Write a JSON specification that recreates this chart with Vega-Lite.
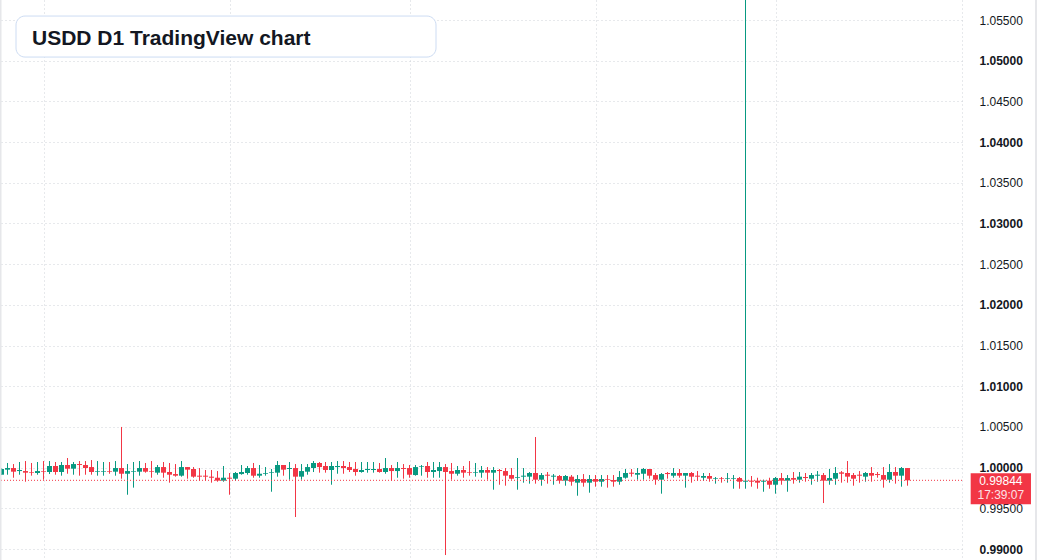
{
  "$schema": "https://vega.github.io/schema/vega-lite/v6.json",
  "width": 962,
  "height": 560,
  "autosize": {"type": "none"},
  "padding": {"left": 0, "top": 0, "right": 75, "bottom": 0},
  "background": "#ffffff",
  "config": {"view": {"stroke": null}, "font": "Liberation Sans"},
  "datasets": {
    "candles": [
      {"d":"2024-07-25","o":0.99913,"h":0.99991,"l":0.99909,"c":0.99983},
      {"d":"2024-07-26","o":0.99975,"h":1.00057,"l":0.99913,"c":0.99995},
      {"d":"2024-07-27","o":0.99995,"h":1.00044,"l":0.99876,"c":0.99950},
      {"d":"2024-07-28","o":0.99958,"h":1.00069,"l":0.99913,"c":0.99971},
      {"d":"2024-07-29","o":0.99958,"h":1.00081,"l":0.99827,"c":0.99938},
      {"d":"2024-07-30","o":0.99946,"h":1.00057,"l":0.99901,"c":0.99938},
      {"d":"2024-07-31","o":0.99934,"h":1.00069,"l":0.99913,"c":0.99958},
      {"d":"2024-08-01","o":0.99958,"h":1.00081,"l":0.99852,"c":0.99950},
      {"d":"2024-08-02","o":0.99946,"h":1.00081,"l":0.99921,"c":1.00020},
      {"d":"2024-08-03","o":1.00020,"h":1.00069,"l":0.99913,"c":0.99946},
      {"d":"2024-08-04","o":0.99946,"h":1.00069,"l":0.99901,"c":1.00032},
      {"d":"2024-08-05","o":1.00032,"h":1.00118,"l":0.99925,"c":0.99987},
      {"d":"2024-08-06","o":0.99987,"h":1.00069,"l":0.99913,"c":1.00044},
      {"d":"2024-08-07","o":1.00044,"h":1.00081,"l":0.99901,"c":1.00032},
      {"d":"2024-08-08","o":1.00032,"h":1.00081,"l":0.99913,"c":0.99995},
      {"d":"2024-08-09","o":1.00007,"h":1.00093,"l":0.99913,"c":0.99946},
      {"d":"2024-08-10","o":0.99950,"h":1.00081,"l":0.99901,"c":0.99958},
      {"d":"2024-08-11","o":0.99950,"h":1.00069,"l":0.99901,"c":0.99958},
      {"d":"2024-08-12","o":0.99958,"h":1.00069,"l":0.99925,"c":0.99950},
      {"d":"2024-08-13","o":0.99950,"h":1.00081,"l":0.99901,"c":0.99995},
      {"d":"2024-08-14","o":0.99995,"h":1.00500,"l":0.99864,"c":0.99925},
      {"d":"2024-08-15","o":0.99925,"h":1.00044,"l":0.99667,"c":0.99958},
      {"d":"2024-08-16","o":0.99950,"h":1.00069,"l":0.99754,"c":0.99958},
      {"d":"2024-08-17","o":0.99950,"h":1.00081,"l":0.99901,"c":0.99995},
      {"d":"2024-08-18","o":0.99995,"h":1.00057,"l":0.99938,"c":0.99950},
      {"d":"2024-08-19","o":0.99958,"h":1.00081,"l":0.99876,"c":0.99950},
      {"d":"2024-08-20","o":0.99938,"h":1.00032,"l":0.99913,"c":1.00007},
      {"d":"2024-08-21","o":1.00007,"h":1.00069,"l":0.99876,"c":0.99938},
      {"d":"2024-08-22","o":0.99946,"h":1.00057,"l":0.99815,"c":0.99913},
      {"d":"2024-08-23","o":0.99921,"h":1.00044,"l":0.99889,"c":0.99901},
      {"d":"2024-08-24","o":0.99901,"h":1.00081,"l":0.99889,"c":1.00007},
      {"d":"2024-08-25","o":1.00007,"h":1.00007,"l":0.99864,"c":0.99975},
      {"d":"2024-08-26","o":0.99983,"h":1.00007,"l":0.99876,"c":0.99889},
      {"d":"2024-08-27","o":0.99901,"h":0.99995,"l":0.99840,"c":0.99889},
      {"d":"2024-08-28","o":0.99901,"h":0.99971,"l":0.99840,"c":0.99889},
      {"d":"2024-08-29","o":0.99889,"h":0.99971,"l":0.99815,"c":0.99876},
      {"d":"2024-08-30","o":0.99876,"h":0.99958,"l":0.99827,"c":0.99840},
      {"d":"2024-08-31","o":0.99840,"h":1.00020,"l":0.99827,"c":0.99876},
      {"d":"2024-09-01","o":0.99876,"h":0.99934,"l":0.99667,"c":0.99864},
      {"d":"2024-09-02","o":0.99864,"h":0.99946,"l":0.99840,"c":0.99934},
      {"d":"2024-09-03","o":0.99921,"h":1.00032,"l":0.99913,"c":0.99946},
      {"d":"2024-09-04","o":0.99934,"h":1.00020,"l":0.99913,"c":0.99995},
      {"d":"2024-09-05","o":0.99995,"h":1.00057,"l":0.99876,"c":0.99901},
      {"d":"2024-09-06","o":0.99901,"h":1.00032,"l":0.99876,"c":0.99925},
      {"d":"2024-09-07","o":0.99925,"h":1.00007,"l":0.99901,"c":0.99934},
      {"d":"2024-09-08","o":0.99938,"h":0.99983,"l":0.99704,"c":0.99946},
      {"d":"2024-09-09","o":0.99938,"h":1.00081,"l":0.99889,"c":1.00032},
      {"d":"2024-09-10","o":1.00032,"h":1.00032,"l":0.99901,"c":0.99975},
      {"d":"2024-09-11","o":0.99983,"h":1.00069,"l":0.99852,"c":0.99995},
      {"d":"2024-09-12","o":0.99995,"h":1.00044,"l":0.99393,"c":0.99889},
      {"d":"2024-09-13","o":0.99889,"h":1.00044,"l":0.99852,"c":0.99958},
      {"d":"2024-09-14","o":0.99950,"h":1.00044,"l":0.99913,"c":1.00007},
      {"d":"2024-09-15","o":0.99995,"h":1.00081,"l":0.99946,"c":1.00057},
      {"d":"2024-09-16","o":1.00057,"h":1.00069,"l":0.99938,"c":1.00007},
      {"d":"2024-09-17","o":1.00020,"h":1.00069,"l":0.99938,"c":0.99971},
      {"d":"2024-09-18","o":0.99971,"h":1.00069,"l":0.99790,"c":1.00020},
      {"d":"2024-09-19","o":1.00007,"h":1.00081,"l":0.99925,"c":1.00020},
      {"d":"2024-09-20","o":1.00020,"h":1.00081,"l":0.99925,"c":0.99995},
      {"d":"2024-09-21","o":1.00007,"h":1.00069,"l":0.99946,"c":0.99971},
      {"d":"2024-09-22","o":0.99983,"h":1.00069,"l":0.99901,"c":0.99946},
      {"d":"2024-09-23","o":0.99946,"h":1.00069,"l":0.99938,"c":0.99971},
      {"d":"2024-09-24","o":0.99971,"h":1.00069,"l":0.99938,"c":0.99983},
      {"d":"2024-09-25","o":0.99971,"h":1.00069,"l":0.99938,"c":0.99983},
      {"d":"2024-09-26","o":0.99983,"h":1.00057,"l":0.99938,"c":0.99946},
      {"d":"2024-09-27","o":0.99946,"h":1.00118,"l":0.99925,"c":0.99995},
      {"d":"2024-09-28","o":0.99995,"h":1.00032,"l":0.99840,"c":0.99958},
      {"d":"2024-09-29","o":0.99958,"h":1.00069,"l":0.99876,"c":0.99995},
      {"d":"2024-09-30","o":0.99995,"h":1.00044,"l":0.99864,"c":0.99983},
      {"d":"2024-10-01","o":0.99995,"h":1.00032,"l":0.99876,"c":0.99913},
      {"d":"2024-10-02","o":0.99909,"h":1.00032,"l":0.99901,"c":1.00007},
      {"d":"2024-10-03","o":1.00012,"h":1.00032,"l":0.99901,"c":1.00020},
      {"d":"2024-10-04","o":1.00020,"h":1.00069,"l":0.99876,"c":0.99946},
      {"d":"2024-10-05","o":0.99946,"h":1.00069,"l":0.99876,"c":0.99971},
      {"d":"2024-10-06","o":0.99958,"h":1.00069,"l":0.99876,"c":1.00007},
      {"d":"2024-10-07","o":1.00007,"h":1.00044,"l":0.98926,"c":0.99946},
      {"d":"2024-10-08","o":0.99958,"h":1.00057,"l":0.99852,"c":0.99925},
      {"d":"2024-10-09","o":0.99925,"h":1.00020,"l":0.99901,"c":0.99971},
      {"d":"2024-10-10","o":0.99971,"h":1.00020,"l":0.99876,"c":0.99938},
      {"d":"2024-10-11","o":0.99946,"h":1.00081,"l":0.99901,"c":0.99938},
      {"d":"2024-10-12","o":0.99938,"h":1.00057,"l":0.99889,"c":0.99946},
      {"d":"2024-10-13","o":0.99938,"h":1.00020,"l":0.99876,"c":0.99971},
      {"d":"2024-10-14","o":0.99971,"h":1.00007,"l":0.99852,"c":0.99938},
      {"d":"2024-10-15","o":0.99938,"h":1.00007,"l":0.99729,"c":0.99971},
      {"d":"2024-10-16","o":0.99971,"h":0.99983,"l":0.99790,"c":0.99958},
      {"d":"2024-10-17","o":0.99958,"h":0.99995,"l":0.99778,"c":0.99901},
      {"d":"2024-10-18","o":0.99909,"h":0.99995,"l":0.99852,"c":0.99864},
      {"d":"2024-10-19","o":0.99876,"h":1.00118,"l":0.99729,"c":0.99885},
      {"d":"2024-10-20","o":0.99889,"h":0.99995,"l":0.99815,"c":0.99901},
      {"d":"2024-10-21","o":0.99889,"h":0.99946,"l":0.99803,"c":0.99934},
      {"d":"2024-10-22","o":0.99934,"h":1.00376,"l":0.99803,"c":0.99852},
      {"d":"2024-10-23","o":0.99852,"h":0.99934,"l":0.99778,"c":0.99909},
      {"d":"2024-10-24","o":0.99913,"h":0.99946,"l":0.99803,"c":0.99901},
      {"d":"2024-10-25","o":0.99889,"h":0.99921,"l":0.99790,"c":0.99901},
      {"d":"2024-10-26","o":0.99897,"h":0.99909,"l":0.99803,"c":0.99840},
      {"d":"2024-10-27","o":0.99840,"h":0.99909,"l":0.99778,"c":0.99897},
      {"d":"2024-10-28","o":0.99889,"h":0.99909,"l":0.99778,"c":0.99827},
      {"d":"2024-10-29","o":0.99815,"h":0.99909,"l":0.99655,"c":0.99860},
      {"d":"2024-10-30","o":0.99860,"h":0.99921,"l":0.99766,"c":0.99815},
      {"d":"2024-10-31","o":0.99815,"h":0.99909,"l":0.99692,"c":0.99860},
      {"d":"2024-11-01","o":0.99860,"h":0.99909,"l":0.99766,"c":0.99827},
      {"d":"2024-11-02","o":0.99827,"h":0.99909,"l":0.99766,"c":0.99860},
      {"d":"2024-11-03","o":0.99860,"h":0.99909,"l":0.99754,"c":0.99852},
      {"d":"2024-11-04","o":0.99848,"h":0.99909,"l":0.99766,"c":0.99827},
      {"d":"2024-11-05","o":0.99827,"h":0.99958,"l":0.99790,"c":0.99885},
      {"d":"2024-11-06","o":0.99876,"h":0.99983,"l":0.99864,"c":0.99934},
      {"d":"2024-11-07","o":0.99938,"h":0.99983,"l":0.99889,"c":0.99925},
      {"d":"2024-11-08","o":0.99913,"h":0.99995,"l":0.99852,"c":0.99934},
      {"d":"2024-11-09","o":0.99925,"h":0.99995,"l":0.99852,"c":0.99983},
      {"d":"2024-11-10","o":0.99983,"h":0.99983,"l":0.99864,"c":0.99901},
      {"d":"2024-11-11","o":0.99909,"h":0.99934,"l":0.99790,"c":0.99852},
      {"d":"2024-11-12","o":0.99852,"h":0.99934,"l":0.99680,"c":0.99921},
      {"d":"2024-11-13","o":0.99934,"h":0.99946,"l":0.99864,"c":0.99921},
      {"d":"2024-11-14","o":0.99901,"h":0.99995,"l":0.99876,"c":0.99934},
      {"d":"2024-11-15","o":0.99934,"h":0.99983,"l":0.99876,"c":0.99901},
      {"d":"2024-11-16","o":0.99901,"h":0.99934,"l":0.99754,"c":0.99934},
      {"d":"2024-11-17","o":0.99934,"h":0.99946,"l":0.99815,"c":0.99889},
      {"d":"2024-11-18","o":0.99901,"h":0.99958,"l":0.99840,"c":0.99889},
      {"d":"2024-11-19","o":0.99876,"h":0.99934,"l":0.99840,"c":0.99897},
      {"d":"2024-11-20","o":0.99897,"h":0.99934,"l":0.99827,"c":0.99864},
      {"d":"2024-11-21","o":0.99864,"h":0.99885,"l":0.99803,"c":0.99872},
      {"d":"2024-11-22","o":0.99872,"h":0.99885,"l":0.99815,"c":0.99864},
      {"d":"2024-11-23","o":0.99864,"h":0.99934,"l":0.99815,"c":0.99872},
      {"d":"2024-11-24","o":0.99864,"h":0.99909,"l":0.99741,"c":0.99872},
      {"d":"2024-11-25","o":0.99872,"h":0.99885,"l":0.99741,"c":0.99827},
      {"d":"2024-11-26","o":0.99827,"h":1.06000,"l":0.99741,"c":0.99840},
      {"d":"2024-11-27","o":0.99840,"h":0.99897,"l":0.99766,"c":0.99827},
      {"d":"2024-11-28","o":0.99840,"h":0.99876,"l":0.99741,"c":0.99815},
      {"d":"2024-11-29","o":0.99827,"h":0.99852,"l":0.99704,"c":0.99840},
      {"d":"2024-11-30","o":0.99840,"h":0.99876,"l":0.99741,"c":0.99790},
      {"d":"2024-12-01","o":0.99790,"h":0.99885,"l":0.99680,"c":0.99872},
      {"d":"2024-12-02","o":0.99872,"h":0.99934,"l":0.99790,"c":0.99840},
      {"d":"2024-12-03","o":0.99840,"h":0.99909,"l":0.99704,"c":0.99872},
      {"d":"2024-12-04","o":0.99872,"h":0.99946,"l":0.99803,"c":0.99852},
      {"d":"2024-12-05","o":0.99852,"h":0.99946,"l":0.99815,"c":0.99889},
      {"d":"2024-12-06","o":0.99885,"h":0.99934,"l":0.99827,"c":0.99872},
      {"d":"2024-12-07","o":0.99864,"h":0.99934,"l":0.99790,"c":0.99909},
      {"d":"2024-12-08","o":0.99901,"h":0.99958,"l":0.99827,"c":0.99913},
      {"d":"2024-12-09","o":0.99909,"h":0.99934,"l":0.99565,"c":0.99840},
      {"d":"2024-12-10","o":0.99840,"h":0.99983,"l":0.99790,"c":0.99872},
      {"d":"2024-12-11","o":0.99864,"h":1.00007,"l":0.99790,"c":0.99934},
      {"d":"2024-12-12","o":0.99942,"h":0.99958,"l":0.99815,"c":0.99925},
      {"d":"2024-12-13","o":0.99934,"h":1.00081,"l":0.99815,"c":0.99889},
      {"d":"2024-12-14","o":0.99909,"h":0.99934,"l":0.99778,"c":0.99864},
      {"d":"2024-12-15","o":0.99913,"h":0.99958,"l":0.99815,"c":0.99901},
      {"d":"2024-12-16","o":0.99889,"h":0.99946,"l":0.99827,"c":0.99934},
      {"d":"2024-12-17","o":0.99934,"h":1.00007,"l":0.99827,"c":0.99901},
      {"d":"2024-12-18","o":0.99921,"h":0.99946,"l":0.99876,"c":0.99909},
      {"d":"2024-12-19","o":0.99909,"h":1.00007,"l":0.99754,"c":0.99852},
      {"d":"2024-12-20","o":0.99852,"h":1.00044,"l":0.99815,"c":0.99946},
      {"d":"2024-12-21","o":0.99946,"h":1.00007,"l":0.99803,"c":0.99901},
      {"d":"2024-12-22","o":0.99901,"h":1.00007,"l":0.99766,"c":0.99995},
      {"d":"2024-12-23","o":0.99995,"h":0.99995,"l":0.99778,"c":0.99844}
    ],
    "last": [{"price": 0.99844, "label": "0.99844", "timer": "17:39:07"}]
  },
  "layer": [
    {
      "data": {"name": "candles"},
      "mark": {"type": "rule", "strokeWidth": 1, "clip": true},
      "encoding": {
        "x": {
          "field": "d", "type": "temporal",
          "scale": {"type": "utc", "padding": 0, "nice": false, "domain": [
            {"year": 2024, "month": 7, "date": 24, "hours": 18, "minutes": 0, "utc": true},
            {"year": 2025, "month": 1, "date": 1, "hours": 2, "minutes": 0, "utc": true}
          ]},
          "axis": {
            "values": [
              {"year": 2024, "month": 8, "date": 1, "utc": true},
              {"year": 2024, "month": 9, "date": 1, "utc": true},
              {"year": 2024, "month": 10, "date": 1, "utc": true},
              {"year": 2024, "month": 11, "date": 1, "utc": true},
              {"year": 2024, "month": 12, "date": 1, "utc": true},
              {"year": 2025, "month": 1, "date": 1, "utc": true}
            ],
            "labels": false, "ticks": false, "domain": false, "title": null,
            "grid": true, "gridColor": "#cfd2d8", "gridDash": [1, 3], "gridWidth": 1
          }
        },
        "y": {
          "field": "l", "type": "quantitative",
          "scale": {"domain": [0.98865, 1.05746], "nice": false, "zero": false, "padding": 0},
          "axis": {
            "orient": "right", "title": null,
            "values": [0.99, 0.995, 1, 1.005, 1.01, 1.015, 1.02, 1.025, 1.03, 1.035, 1.04, 1.045, 1.05, 1.055],
            "format": ".5f", "ticks": false, "domain": false,
            "labelAlign": "left", "labelPadding": 17, "labelFontSize": 12,
            "labelColor": "#131722", "labelFont": "Liberation Sans",
            "labelOverlap": false, "labelFlush": false, "labelBound": false,
            "labelFontWeight": {"condition": {"test": "round(datum.value*1000) % 10 == 0", "value": "bold"}, "value": "normal"},
            "grid": true, "gridColor": "#cfd2d8", "gridDash": [1, 3], "gridWidth": 1
          }
        },
        "y2": {"field": "h"},
        "color": {"condition": {"test": "datum.c >= datum.o", "value": "#089981"}, "value": "#f23645"}
      }
    },
    {
      "data": {"name": "candles"},
      "mark": {"type": "bar", "width": 5, "clip": true},
      "encoding": {
        "x": {"field": "d", "type": "temporal"},
        "y": {"field": "o", "type": "quantitative"},
        "y2": {"field": "c"},
        "color": {"condition": {"test": "datum.c >= datum.o", "value": "#089981"}, "value": "#f23645"}
      }
    },
    {
      "data": {"name": "last"},
      "mark": {"type": "rule", "color": "#f23645", "strokeDash": [1, 2], "strokeWidth": 1},
      "encoding": {"y": {"field": "price", "type": "quantitative"}}
    },
    {
      "data": {"name": "last"},
      "mark": {"type": "rect", "fill": "#ffffff", "stroke": "#cddcf3", "strokeWidth": 1, "cornerRadius": 9},
      "encoding": {
        "x": {"datum": {"year": 2024, "month": 7, "date": 27, "hours": 10, "minutes": 0, "utc": true}, "type": "temporal"},
        "x2": {"datum": {"year": 2024, "month": 10, "date": 5, "hours": 10, "minutes": 0, "utc": true}},
        "y": {"datum": 1.05549, "type": "quantitative"},
        "y2": {"datum": 1.05045}
      }
    },
    {
      "data": {"name": "last"},
      "mark": {"type": "text", "text": "USDD D1 TradingView chart", "align": "left", "baseline": "alphabetic", "font": "Liberation Sans", "fontSize": 21, "fontWeight": "bold", "color": "#131722"},
      "encoding": {
        "x": {"datum": {"year": 2024, "month": 7, "date": 30, "hours": 2, "minutes": 0, "utc": true}, "type": "temporal"},
        "y": {"datum": 1.05198, "type": "quantitative"}
      }
    },
    {
      "data": {"name": "last"},
      "mark": {"type": "rect", "fill": "#f23645"},
      "encoding": {
        "x": {"datum": {"year": 2025, "month": 1, "date": 2, "hours": 12, "minutes": 43, "utc": true}, "type": "temporal"},
        "x2": {"datum": {"year": 2025, "month": 1, "date": 12, "hours": 13, "minutes": 55, "utc": true}},
        "y": {"datum": 0.99930, "type": "quantitative"},
        "y2": {"datum": 0.99549}
      }
    },
    {
      "data": {"name": "last"},
      "mark": {"type": "text", "align": "center", "baseline": "middle", "font": "Liberation Sans", "fontSize": 12, "color": "#ffffff", "dy": 1},
      "encoding": {
        "x": {"datum": {"year": 2025, "month": 1, "date": 7, "hours": 13, "minutes": 26, "utc": true}, "type": "temporal"},
        "y": {"field": "price", "type": "quantitative"},
        "text": {"field": "label"}
      }
    },
    {
      "data": {"name": "last"},
      "mark": {"type": "text", "align": "center", "baseline": "middle", "font": "Liberation Sans", "fontSize": 12, "color": "#fde2e5", "dy": 15},
      "encoding": {
        "x": {"datum": {"year": 2025, "month": 1, "date": 7, "hours": 13, "minutes": 26, "utc": true}, "type": "temporal"},
        "y": {"field": "price", "type": "quantitative"},
        "text": {"field": "timer"}
      }
    },
    {
      "data": {"name": "last"},
      "mark": {"type": "rule", "color": "#e6e7ea", "strokeWidth": 3},
      "encoding": {"x": {"datum": {"year": 2024, "month": 7, "date": 24, "hours": 18, "minutes": 0, "utc": true}, "type": "temporal"}}
    },
    {
      "data": {"name": "last"},
      "mark": {"type": "rule", "color": "#e6e7ea", "strokeWidth": 2},
      "encoding": {"x": {"datum": {"year": 2025, "month": 1, "date": 13, "hours": 10, "minutes": 0, "utc": true}, "type": "temporal"}}
    }
  ]
}
